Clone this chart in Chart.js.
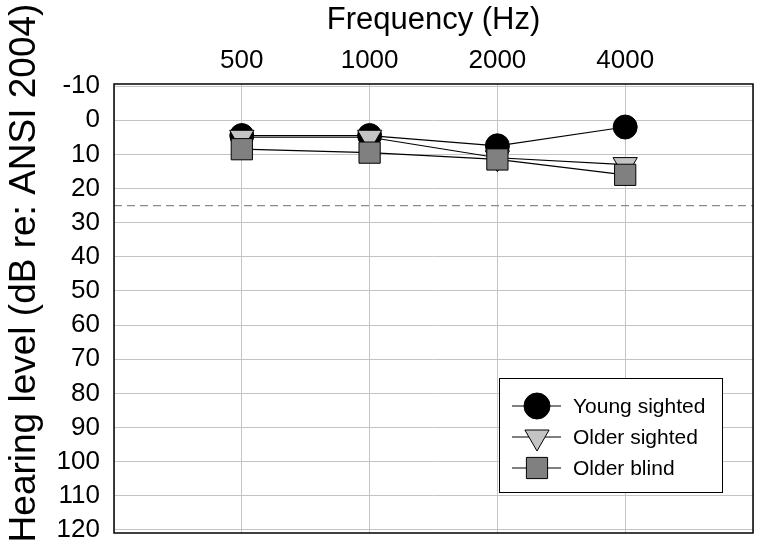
<!DOCTYPE html>
<html>
<head>
<meta charset="utf-8">
<script src="https://cdn.jsdelivr.net/npm/chart.js@4"></script>
<style>
  body { margin: 0; background: #fff; }
</style>
</head>
<body>
<canvas id="audiogram" width="762" height="548"></canvas>
<script>
const freqLabels = ["500", "1000", "2000", "4000"];
const youngSighted = [4.5, 4.5, 7.5, 2];
const olderSighted = [5, 5, 11, 13];
const olderBlind = [8.5, 9.5, 11.5, 16];
const yTickValues = [-10, 0, 10, 20, 30, 40, 50, 60, 70, 80, 90, 100, 110, 120];
const criterionLevel = 25;

Chart.defaults.font.family = "'Liberation Sans', Arial, sans-serif";
Chart.defaults.color = "#000";

const toPoints = (arr) => arr.map((v, i) => ({ x: i + 1, y: v }));

const seriesStyle = [
  { label: "Young sighted", data: youngSighted, pointStyle: "circle", radius: 12, rotation: 0, fill: "#000000", order: 3 },
  { label: "Older sighted", data: olderSighted, pointStyle: "triangle", radius: 14, rotation: 180, fill: "#c4c4c4", order: 2 },
  { label: "Older blind", data: olderBlind, pointStyle: "rect", radius: 15, rotation: 0, fill: "#808080", order: 1 },
];

// dashed line at 25 dB + black frame round the plot
const framePlugin = {
  id: "frame",
  beforeDatasetsDraw(chart) {
    const { ctx, chartArea: a, scales } = chart;
    const y = scales.y.getPixelForValue(criterionLevel);
    ctx.save();
    ctx.strokeStyle = "#8a8a8a";
    ctx.lineWidth = 1.2;
    ctx.setLineDash([8, 5]);
    ctx.beginPath();
    ctx.moveTo(a.left, y);
    ctx.lineTo(a.right, y);
    ctx.stroke();
    ctx.setLineDash([]);
    ctx.strokeStyle = "#000";
    ctx.lineWidth = 1.5;
    ctx.strokeRect(a.left, a.top, a.right - a.left, a.bottom - a.top);
    ctx.restore();
  },
};

// y title (centred on canvas, not the plot) and boxed legend inside the plot
const extrasPlugin = {
  id: "extras",
  afterDraw(chart) {
    const ctx = chart.ctx;
    ctx.save();
    ctx.translate(35, 273);
    ctx.rotate(-Math.PI / 2);
    ctx.font = "37px 'Liberation Sans', Arial, sans-serif";
    ctx.fillStyle = "#000";
    ctx.textAlign = "center";
    ctx.textBaseline = "alphabetic";
    ctx.fillText("Hearing level (dB re: ANSI 2004)", 0, 0);
    ctx.restore();

    const bx = 499.5, by = 378.5, bw = 223, bh = 114;
    ctx.save();
    ctx.fillStyle = "#fff";
    ctx.fillRect(bx, by, bw, bh);
    ctx.strokeStyle = "#000";
    ctx.lineWidth = 1;
    ctx.strokeRect(bx, by, bw, bh);
    const rows = [406, 437, 468];
    const legendRadius = [13, 14, 15];
    seriesStyle.forEach((s, i) => {
      const y = rows[i];
      ctx.strokeStyle = "#000";
      ctx.lineWidth = 1.2;
      ctx.beginPath();
      ctx.moveTo(512, y);
      ctx.lineTo(561, y);
      ctx.stroke();
      ctx.fillStyle = s.fill;
      ctx.strokeStyle = "#000";
      ctx.lineWidth = 1;
      Chart.helpers.drawPoint(ctx, {
        pointStyle: s.pointStyle,
        radius: legendRadius[i],
        rotation: s.rotation,
        borderWidth: 1,
      }, 537, y);
      ctx.fillStyle = "#000";
      ctx.font = "21px 'Liberation Sans', Arial, sans-serif";
      ctx.textAlign = "left";
      ctx.textBaseline = "middle";
      ctx.fillText(s.label, 573, y + 1);
    });
    ctx.restore();
  },
};

new Chart(document.getElementById("audiogram"), {
  type: "line",
  data: {
    datasets: seriesStyle.map((s) => ({
      label: s.label,
      data: toPoints(s.data),
      order: s.order,
      borderColor: "#000",
      borderWidth: 1.2,
      pointStyle: s.pointStyle,
      pointRotation: s.rotation,
      pointRadius: s.radius,
      pointHoverRadius: s.radius,
      pointBackgroundColor: s.fill,
      pointBorderColor: "#000",
      pointBorderWidth: 1,
      tension: 0,
    })),
  },
  options: {
    responsive: false,
    animation: false,
    layout: { autoPadding: false, padding: { left: 0, top: 0, right: 9, bottom: 15 } },
    plugins: { legend: { display: false }, tooltip: { enabled: false } },
    scales: {
      x: {
        type: "linear",
        position: "top",
        min: 0,
        max: 5,
        afterBuildTicks: (axis) => {
          axis.ticks = [0, 1, 2, 3, 4, 5].map((v) => ({ value: v }));
        },
        afterFit: (scale) => {
          scale.height = 84;
          scale.paddingLeft = 0;
          scale.paddingRight = 0;
        },
        ticks: {
          callback: (v) => freqLabels[v - 1] || "",
          font: { size: 26 },
          padding: 8,
          maxRotation: 0,
          autoSkip: false,
        },
        grid: { color: "#c4c4c4", lineWidth: 1, drawTicks: false },
        border: { display: false },
        title: {
          display: true,
          text: "Frequency (Hz)",
          font: { size: 31 },
          padding: { top: 2, bottom: 0 },
        },
      },
      y: {
        type: "linear",
        reverse: true,
        min: -10.6,
        max: 120.9,
        afterBuildTicks: (axis) => {
          axis.ticks = yTickValues.map((v) => ({ value: v }));
        },
        afterFit: (scale) => {
          scale.width = 114;
          scale.paddingTop = 0;
          scale.paddingBottom = 0;
        },
        ticks: { font: { size: 26 }, padding: 14, autoSkip: false },
        grid: { color: "#c4c4c4", lineWidth: 1, drawTicks: false },
        border: { display: false },
      },
    },
  },
  plugins: [framePlugin, extrasPlugin],
});
</script>
</body>
</html>
